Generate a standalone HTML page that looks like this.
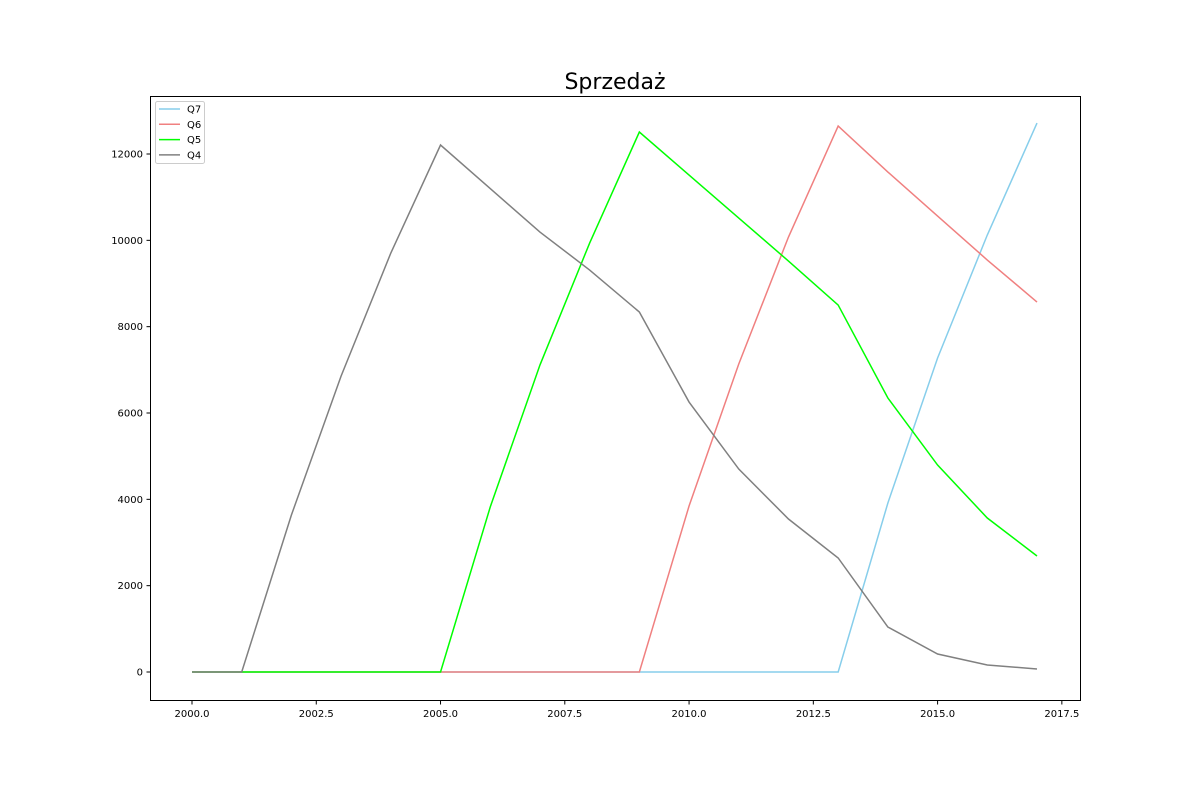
<!DOCTYPE html>
<html><head><meta charset="utf-8"><style>
body{margin:0;background:#fff;font-family:"Liberation Sans","DejaVu Sans",sans-serif}
</style></head><body>
<svg id="chart" width="1200" height="800" xmlns="http://www.w3.org/2000/svg" font-family="DejaVu Sans, Liberation Sans, sans-serif">
<rect width="1200" height="800" fill="#fff"/>
<text x="615" y="89" font-size="22" text-anchor="middle">Sprzedaż</text>
<g id="plot"></g>
<rect x="150.5" y="96.5" width="930" height="604" fill="none" stroke="#000" stroke-width="1"/>
<g id="legend"></g>
</svg>
<script>
const years=[2000,2001,2002,2003,2004,2005,2006,2007,2008,2009,2010,2011,2012,2013,2014,2015,2016,2017];
const q7=[0,0,0,0,0,0,0,0,0,0,0,0,0,0,3915,7274,10123,12717];
const q6=[0,0,0,0,0,0,0,0,0,0,3845,7135,10077,12648,11582,10563,9544,8571];
const q5=[0,0,0,0,0,0,3822,7111,9937,12509,11513,10517,9520,8501,6347,4795,3567,2687];
const q4=[0,0,3637,6857,9706,12208,11200,10192,9312,8339,6254,4702,3544,2641,1042,417,162,70];
const xTicks=[2000,2002.5,2005,2007.5,2010,2012.5,2015,2017.5];
const yTicks=[0,2000,4000,6000,8000,10000,12000];
const seriesNames=["Q7","Q6","Q5","Q4"];
const seriesColors=["#87ceeb","#f08080","#00ff00","#808080"];
const seriesData=[q7,q6,q5,q4];

const NS="http://www.w3.org/2000/svg";
const xs=v=>192+(v-2000)*(1037-192)/17;
const ys=v=>672-v*(672-154)/12000;
const plot=document.getElementById('plot');
function mk(tag,attrs,parent){const e=document.createElementNS(NS,tag);for(const k in attrs)e.setAttribute(k,attrs[k]);parent.appendChild(e);return e;}
xTicks.forEach(t=>{
  const x=xs(t);
  const l=mk('line',{x1:x,x2:x,y1:700.5,y2:704.5,stroke:'#000'},plot);
  
  
  const tx=mk('text',{x:x,y:717,'font-size':10,'text-anchor':'middle'},plot);
  tx.textContent=t.toFixed(1);
  
  
});
yTicks.forEach(t=>{
  const y=ys(t);
  const l=mk('line',{x1:146.5,x2:150.5,y1:y,y2:y,stroke:'#000'},plot);
  
  
  const tx=mk('text',{x:143,y:y+3.5,'font-size':10,'text-anchor':'end'},plot);
  tx.textContent=t;
  
  
});
seriesData.forEach((d,i)=>{
  const pts=d.map((v,j)=>xs(years[j])+','+ys(v)).join(' ');
  const p=mk('polyline',{points:pts,fill:'none',stroke:seriesColors[i],'stroke-width':1.5},plot);
  
  
});
const lg=document.getElementById('legend');
mk('rect',{x:155.5,y:101.5,width:49,height:62,fill:'#fff',stroke:'#ccc',rx:2},lg);
seriesNames.forEach((n,i)=>{
  const y=109+i*15.3;
  const l=mk('line',{x1:159,x2:180,y1:y,y2:y,stroke:seriesColors[i],'stroke-width':1.5},lg);
  
  
  const t=mk('text',{x:187,y:y+3.5,'font-size':10},lg);
  t.textContent=n;
  
  
});
</script>
</body></html>
